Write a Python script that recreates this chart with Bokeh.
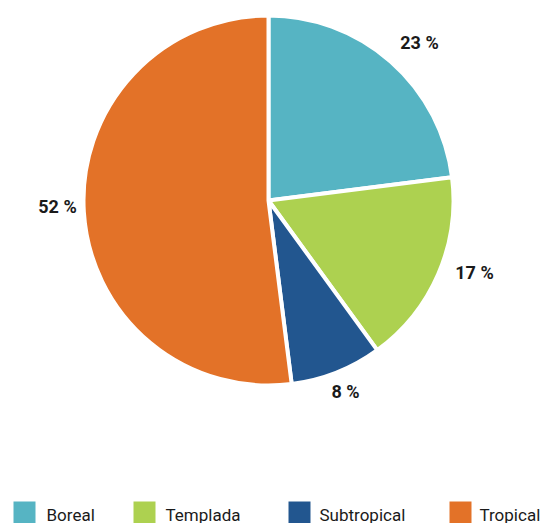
import math
from bokeh.plotting import figure
from bokeh.models import Range1d, ColumnDataSource
from bokeh.core.properties import value
from bokeh.embed import file_html
from bokeh.resources import INLINE

# ---- data ----
categories = ["Boreal", "Templada", "Subtropical", "Tropical"]
shares = [23, 17, 8, 52]
colors = ["#56B4C3", "#ADD150", "#22568F", "#E37228"]
labels = [f"{v} %" for v in shares]

# ---- layout (page pixel coordinates) ----
W, H = 544, 523
FONT = "Roboto"

def to_data(px, py):
    return px, H - py

cx, cy = to_data(268, 200)
R = 185
label_page = [(419, 42), (474, 272), (345, 391), (57, 206)]
legend_sq_x = [24, 144, 299, 460]
legend_tx_x = [46, 165, 319, 479]
legend_sq_y = 512
legend_tx_y = 514

total = sum(shares)
starts, ends = [], []
cum = 0.0
for v in shares:
    a0 = math.pi / 2 - 2 * math.pi * cum / total
    cum += v
    a1 = math.pi / 2 - 2 * math.pi * cum / total
    starts.append(a0)
    ends.append(a1)

src = ColumnDataSource(dict(cat=categories, start=starts, end=ends, color=colors))

p = figure(width=W, height=H, output_backend="svg", toolbar_location=None,
           x_range=Range1d(0, W), y_range=Range1d(0, H), min_border=0)
p.axis.visible = False
p.grid.visible = False
p.outline_line_color = None
p.background_fill_color = "white"

p.wedge(x=cx, y=cy, radius=R, start_angle="start", end_angle="end",
        direction="clock", fill_color="color", line_color="white",
        line_width=4, source=src)

lx = [to_data(*q)[0] for q in label_page]
ly = [to_data(*q)[1] for q in label_page]
p.text(x=lx, y=ly, text=labels, text_align="center", text_baseline="middle",
       text_font=value(FONT), text_font_size="18px", text_font_style="bold",
       text_color="#1a1a1a")

sq = [to_data(x, legend_sq_y) for x in legend_sq_x]
p.rect(x=[s[0] for s in sq], y=[s[1] for s in sq], width=22, height=22,
       fill_color=colors, line_color=None)
tx = [to_data(x, legend_tx_y) for x in legend_tx_x]
p.text(x=[t[0] for t in tx], y=[t[1] for t in tx], text=categories,
       text_align="left", text_baseline="middle",
       text_font=value(FONT), text_font_size="17px", text_color="#1a1a1a")

open("out.html", "w").write(file_html(p, INLINE))
